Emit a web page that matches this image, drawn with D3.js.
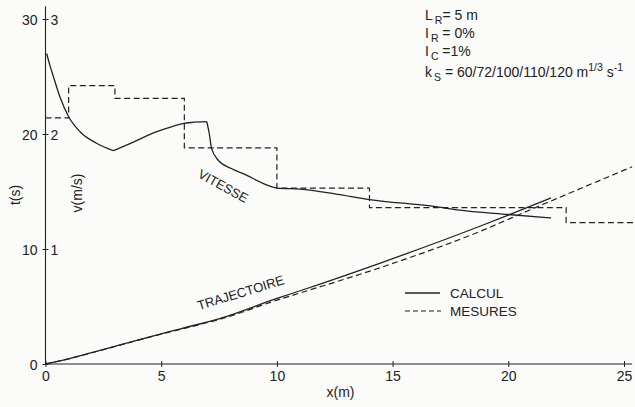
<!DOCTYPE html>
<html>
<head>
<meta charset="utf-8">
<script src="https://cdn.jsdelivr.net/npm/d3@7"></script>
<style>
  body { margin: 0; background: #fbfbfa; }
  text { font-family: "Liberation Sans", Arial, sans-serif; fill: #222; }
</style>
</head>
<body>
<div id="chart"></div>
<script>
var width = 635;
var height = 407;

// measured speed (steps) : x start of each step, speed v (m/s)
var mesStepX = [0, 1, 3, 6, 10, 14, 22.5, 25.4];
var mesStepV = [2.14, 2.42, 2.31, 1.88, 1.53, 1.36, 1.23, 1.23];

// calculated speed, in three pieces (sharp corners at x=3 and x=7)
var calcVX1 = [0.05, 0.2, 0.34, 0.63, 1.0, 1.49, 2.21, 2.93];
var calcV1 = [2.70, 2.59, 2.50, 2.32, 2.15, 2.02, 1.92, 1.855];
var calcVX2 = [2.93, 3.8, 4.81, 5.4, 5.93, 6.3, 6.97];
var calcV2 = [1.855, 1.93, 2.02, 2.06, 2.09, 2.10, 2.107];
var calcVX3 = [6.97, 7.08, 7.17, 7.47, 8.03, 8.7, 9.4, 10.0, 11.0, 12.5, 14.0, 16.8, 17.8, 20.0, 21.85];
var calcV3 = [2.107, 2.0, 1.88, 1.77, 1.70, 1.64, 1.57, 1.53, 1.52, 1.48, 1.43, 1.37, 1.34, 1.30, 1.27];

// trajectory t(s)
var calcTX = [0, 1, 2, 4.1, 5, 6.7, 7.55, 10, 11.2, 14.5, 18.8, 20, 21.85];
var calcT = [0, 0.45, 0.98, 2.15, 2.63, 3.5, 3.97, 5.7, 6.5, 8.8, 12.0, 12.95, 14.45];
var mesTX = [0, 1, 2, 4.1, 5, 6.7, 7.55, 10, 11.2, 14.5, 18.8, 21, 25.35];
var mesT = [0, 0.45, 0.98, 2.12, 2.6, 3.45, 3.9, 5.55, 6.3, 8.4, 11.55, 13.45, 17.15];

var xTicks = [0, 5, 10, 15, 20, 25];
var tTicks = [0, 10, 20, 30];
var vTicks = [1, 2, 3];

var svg = d3.select("#chart").append("svg")
  .attr("width", width)
  .attr("height", height);

var x = d3.scaleLinear().domain([0, 25]).range([45.5, 624]);
var t = d3.scaleLinear().domain([0, 30]).range([364, 19]);
var v = d3.scaleLinear().domain([0, 3]).range([364, 19]);

var ink = "#222";

// axes
var xAxis = svg.append("g")
  .attr("transform", "translate(0," + t(0) + ")")
  .call(d3.axisBottom(x).tickValues(xTicks).tickSizeOuter(0).tickSize(3));
xAxis.select(".domain").remove();
xAxis.selectAll(".tick line").attr("y1", -3).attr("y2", 3).attr("stroke", ink);
xAxis.selectAll(".tick text").attr("font-size", 14).attr("y", 17).attr("dy", 0);

var tAxis = svg.append("g")
  .attr("transform", "translate(" + x(0) + ",0)")
  .call(d3.axisLeft(t).tickValues(tTicks).tickSize(3).tickPadding(5));
tAxis.select(".domain").remove();
tAxis.selectAll(".tick line").attr("x1", -3).attr("x2", 3).attr("stroke", ink);
tAxis.selectAll(".tick text").attr("font-size", 14).attr("dy", "0.36em");

var vAxis = svg.append("g")
  .attr("transform", "translate(" + x(0) + ",0)")
  .call(d3.axisRight(v).tickValues(vTicks).tickFormat(d3.format("d")).tickSize(0).tickPadding(5));
vAxis.select(".domain").remove();
vAxis.selectAll(".tick text").attr("font-size", 14).attr("dy", "0.36em");

svg.append("line")
  .attr("x1", x(0)).attr("x2", x(25.35))
  .attr("y1", t(0)).attr("y2", t(0))
  .attr("stroke", ink).attr("stroke-width", 1.1);
svg.append("line")
  .attr("x1", x(0)).attr("x2", x(0))
  .attr("y1", t(0)).attr("y2", t(31.1))
  .attr("stroke", ink).attr("stroke-width", 1.1);

// axis titles
svg.append("text").attr("x", x(12.75)).attr("y", 397)
  .attr("text-anchor", "middle").attr("font-size", 14).text("x(m)");
svg.append("text").attr("transform", "translate(20,195) rotate(-90)")
  .attr("text-anchor", "middle").attr("font-size", 14).text("t(s)");
svg.append("text").attr("transform", "translate(82,193) rotate(-90)")
  .attr("text-anchor", "middle").attr("font-size", 14).text("v(m/s)");

// lines
var speedLine = d3.line().x(function (d) { return x(d[0]); }).y(function (d) { return v(d[1]); });
var timeLine = d3.line().x(function (d) { return x(d[0]); }).y(function (d) { return t(d[1]); })
  .curve(d3.curveMonotoneX);

svg.append("path")
  .datum(d3.zip(mesStepX, mesStepV))
  .attr("d", speedLine.curve(d3.curveStepAfter))
  .attr("fill", "none").attr("stroke", ink).attr("stroke-width", 1.2)
  .attr("stroke-dasharray", "6,3.5");

speedLine.curve(d3.curveMonotoneX);
[[calcVX1, calcV1], [calcVX2, calcV2], [calcVX3, calcV3]].forEach(function (p) {
  svg.append("path")
    .datum(d3.zip(p[0], p[1]))
    .attr("d", speedLine)
    .attr("fill", "none").attr("stroke", ink).attr("stroke-width", 1.3)
    .attr("stroke-linejoin", "round");
});

svg.append("path")
  .datum(d3.zip(calcTX, calcT))
  .attr("d", timeLine)
  .attr("fill", "none").attr("stroke", ink).attr("stroke-width", 1.3);

svg.append("path")
  .datum(d3.zip(mesTX, mesT))
  .attr("d", timeLine)
  .attr("fill", "none").attr("stroke", ink).attr("stroke-width", 1.2)
  .attr("stroke-dasharray", "6,3.5");

// curve labels
svg.append("text").attr("transform", "translate(221,190) rotate(29)")
  .attr("text-anchor", "middle").attr("font-size", 13).text("VITESSE");
svg.append("text").attr("transform", "translate(242,297) rotate(-17)")
  .attr("text-anchor", "middle").attr("font-size", 13).text("TRAJECTOIRE");

// legend
svg.append("line").attr("x1", 405).attr("x2", 440).attr("y1", 293).attr("y2", 293)
  .attr("stroke", ink).attr("stroke-width", 1.3);
svg.append("line").attr("x1", 405).attr("x2", 441).attr("y1", 311).attr("y2", 311)
  .attr("stroke", ink).attr("stroke-width", 1.2).attr("stroke-dasharray", "5,3");
svg.append("text").attr("x", 450).attr("y", 298).attr("font-size", 13.5).text("CALCUL");
svg.append("text").attr("x", 450).attr("y", 316).attr("font-size", 13.5).text("MESURES");

// parameters
var notes = svg.append("g").attr("font-size", 14);
function note(y, main, sub, rest) {
  var tx = notes.append("text").attr("x", 425).attr("y", y);
  tx.append("tspan").text(main);
  tx.append("tspan").attr("font-size", 10.5).attr("dx", 2).attr("dy", 4).text(sub);
  tx.append("tspan").attr("dy", -4).text(rest);
  return tx;
}
note(20, "L", "R", "= 5 m");
note(38, "I", "R", " = 0%");
note(56, "I", "C", " =1%");
var k = note(77, "k", "S", " = 60/72/100/110/120 m");
k.append("tspan").attr("font-size", 10.5).attr("dy", -6).text("1/3");
k.append("tspan").attr("dy", 6).text(" s");
k.append("tspan").attr("font-size", 10.5).attr("dy", -6).text("-1");
</script>
</body>
</html>
